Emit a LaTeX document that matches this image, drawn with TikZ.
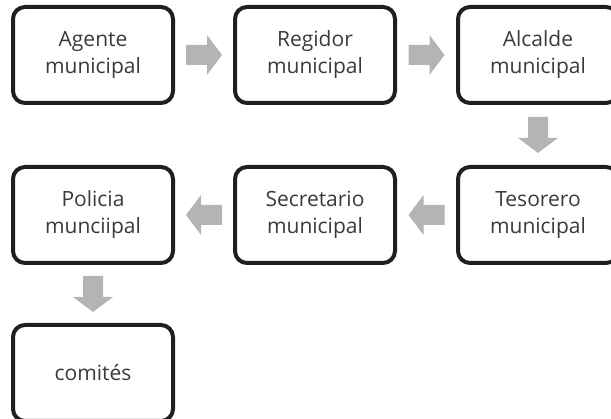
\documentclass[tikz,border=0pt]{standalone}
\usepackage{fontspec}
\setmainfont{Open Sans}
\usetikzlibrary{calc}
\definecolor{txtgray}{HTML}{3A3A3A}
\definecolor{arrgray}{HTML}{B4B4B4}
\tikzset{
  box/.style={draw=black!88, line width=4pt, rounded corners=12pt, minimum width=160pt, minimum height=96pt,
    outer sep=0pt, align=center, text=txtgray, font=\fontsize{21}{27}\selectfont},
  blockarrow/.pic={\fill[arrgray] (-18pt,-10pt) -- (3pt,-10pt) -- (3pt,-20pt) -- (18pt,0pt) -- (3pt,20pt) -- (3pt,10pt) -- (-18pt,10pt) -- cycle;}
}
\begin{document}
\begin{tikzpicture}[x=1pt,y=1pt]
\useasboundingbox (0,0) rectangle (611,-419);
\clip (0,0) rectangle (611,-419);
\node[box] (agente) at (93,-55) {Agente\\municipal};
\node[box] (regidor) at (315,-55) {Regidor\\municipal};
\node[box] (alcalde) at (538,-55) {Alcalde\\municipal};
\node[box] (tesorero) at (538,-215) {Tesorero\\municipal};
\node[box] (secretario) at (315,-215) {Secretario\\municipal};
\node[box] (policia) at (93,-215) {Policia\\munciipal};
\node[box] (comites) at (93,-373) {comités};
\pic at ($(agente.east)!0.5!(regidor.west)$) {blockarrow};
\pic at ($(regidor.east)!0.5!(alcalde.west)$) {blockarrow};
\pic[rotate=-90] at ($(alcalde.south)!0.5!(tesorero.north)$) {blockarrow};
\pic[rotate=180] at ($(tesorero.west)!0.5!(secretario.east)$) {blockarrow};
\pic[rotate=180] at ($(secretario.west)!0.5!(policia.east)$) {blockarrow};
\pic[rotate=-90] at ($(policia.south)!0.5!(comites.north)$) {blockarrow};
\end{tikzpicture}
\end{document}
